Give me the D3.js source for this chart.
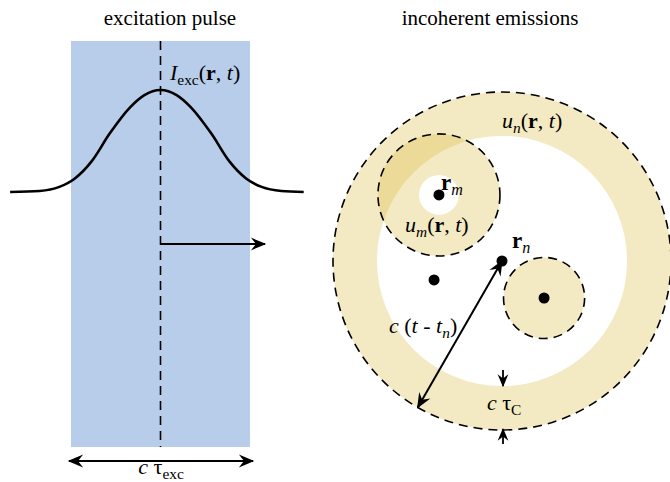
<!DOCTYPE html>
<html>
<head>
<meta charset="utf-8">
<script src="https://cdn.jsdelivr.net/npm/d3@7"></script>
<style>
  html, body { margin: 0; padding: 0; background: #fff; }
  svg { display: block; font-family: "Liberation Serif", "DejaVu Serif", serif; }
</style>
</head>
<body>
<div id="fig"></div>
<script>
const W = 670, H = 482;

// pulse profile: position (pulse widths from centre) and relative intensity
const pulsePos = [-1.68, -1.35, -1.13, -0.96, -0.77, -0.57, -0.34, -0.18, 0, 0.18, 0.34, 0.57, 0.77, 0.96, 1.13, 1.35, 1.6];
const pulseInt = [0, 0.01, 0.05, 0.13, 0.30, 0.57, 0.83, 0.95, 1, 0.95, 0.83, 0.57, 0.30, 0.13, 0.05, 0.01, 0];

// emitters, in units of the outer radius of u_n, relative to r_n
const emitName  = ['n', 'm', 'k', 'j'];
const emitX     = [0, -0.373, 0.249, -0.402];
const emitY     = [0, -0.391, 0.219, 0.112];
const emitOuter = [1, 0.361, 0.24, 0];
const emitInner = [0.74, 0.118, 0, 0];

const BLUE = '#b8cde9';
const SAND = '#d9b73a';

const svg = d3.select('#fig').append('svg')
  .attr('width', W).attr('height', H);

const defs = svg.append('defs');
function marker(id, size) {
  defs.append('marker')
    .attr('id', id)
    .attr('viewBox', '-12 -6 14 12')
    .attr('refX', 0).attr('refY', 0)
    .attr('markerWidth', size).attr('markerHeight', size)
    .attr('markerUnits', 'userSpaceOnUse')
    .attr('orient', 'auto-start-reverse')
    .append('path')
    .attr('d', 'M1,0 L-11,-5 L-7,0 L-11,5 Z')
    .attr('fill', '#000');
}
marker('head', 18);
marker('headS', 15);

// ---------- left panel: excitation pulse ----------
const xPulse = d3.scaleLinear().domain([-1, 1]).range([71, 250]);
const yPulse = d3.scaleLinear().domain([0, 1]).range([192, 90]);

svg.append('rect')
  .attr('x', xPulse(-1)).attr('y', 41)
  .attr('width', xPulse(1) - xPulse(-1)).attr('height', 406)
  .attr('fill', BLUE);

svg.append('line')
  .attr('x1', xPulse(0)).attr('x2', xPulse(0))
  .attr('y1', 41).attr('y2', 447)
  .attr('stroke', '#000').attr('stroke-width', 1.6)
  .attr('stroke-dasharray', '9,6');

const line = d3.line()
  .x((d, i) => xPulse(pulsePos[i]))
  .y(d => yPulse(d))
  .curve(d3.curveMonotoneX);

svg.append('path')
  .attr('d', line(pulseInt))
  .attr('fill', 'none')
  .attr('stroke', '#000')
  .attr('stroke-width', 2.6);

// propagation arrow
svg.append('line')
  .attr('x1', xPulse(0)).attr('x2', 265)
  .attr('y1', 244).attr('y2', 244)
  .attr('stroke', '#000').attr('stroke-width', 2)
  .attr('marker-end', 'url(#head)');

// pulse width double arrow
svg.append('line')
  .attr('x1', 69).attr('x2', 253)
  .attr('y1', 461).attr('y2', 461)
  .attr('stroke', '#000').attr('stroke-width', 2)
  .attr('marker-start', 'url(#head)')
  .attr('marker-end', 'url(#head)');

svg.append('text')
  .attr('x', 170).attr('y', 25)
  .attr('text-anchor', 'middle')
  .attr('font-size', 21)
  .text('excitation pulse');

function mathLabel(x, y, parts, anchor, size) {
  const fs = size || 22;
  const t = svg.append('text')
    .attr('x', x).attr('y', y)
    .attr('font-size', fs)
    .attr('text-anchor', anchor || 'start');
  parts.forEach(p => {
    const s = t.append('tspan').text(p.t);
    if (p.i) s.attr('font-style', 'italic');
    if (p.b) s.attr('font-weight', 'bold');
    if (p.sub) s.attr('font-size', fs * 0.7).attr('dy', 5);
    if (p.up) s.attr('dy', -5);
  });
  return t;
}

mathLabel(170, 80, [
  {t: 'I', i: true}, {t: 'exc', sub: true}, {t: '(', up: true}, {t: 'r', b: true},
  {t: ', '}, {t: 't', i: true}, {t: ')'}
]);

mathLabel(161, 474, [
  {t: 'c', i: true}, {t: ' τ'}, {t: 'exc', sub: true}
], 'middle');

// ---------- right panel: incoherent emissions ----------
const cx = 502, cy = 261;
const rs = d3.scaleLinear().domain([0, 1]).range([0, 169]);

svg.append('text')
  .attr('x', 490).attr('y', 25)
  .attr('text-anchor', 'middle')
  .attr('font-size', 21)
  .text('incoherent emissions');

function ring(x, y, ro, ri) {
  const p = d3.path();
  p.moveTo(x + ro, y); p.arc(x, y, ro, 0, 2 * Math.PI);
  if (ri > 0) { p.moveTo(x + ri, y); p.arc(x, y, ri, 0, 2 * Math.PI); }
  return p.toString();
}

const emitters = emitName.map((n, i) => ({
  n, x: cx + rs(emitX[i]), y: cy + rs(emitY[i]),
  ro: rs(emitOuter[i]), ri: rs(emitInner[i])
}));

svg.append('g').selectAll('path.fill')
  .data(emitters.filter(d => d.ro > 0))
  .join('path')
  .attr('d', d => ring(d.x, d.y, d.ro, d.ri))
  .attr('fill', SAND).attr('fill-opacity', 0.31)
  .attr('fill-rule', 'evenodd');

svg.append('g').selectAll('circle.edge')
  .data(emitters.filter(d => d.ro > 0))
  .join('circle')
  .attr('cx', d => d.x).attr('cy', d => d.y).attr('r', d => d.ro)
  .attr('fill', 'none').attr('stroke', '#000')
  .attr('stroke-width', 1.6).attr('stroke-dasharray', '9,6');

svg.append('g').selectAll('circle.dot')
  .data(emitters)
  .join('circle')
  .attr('cx', d => d.x).attr('cy', d => d.y).attr('r', 5.5)
  .attr('fill', '#000');

// radius arrow c(t - t_n)
const ang = Math.atan2(146, -84);
svg.append('line')
  .attr('x1', cx).attr('y1', cy)
  .attr('x2', cx + rs(1) * Math.cos(ang)).attr('y2', cy + rs(1) * Math.sin(ang))
  .attr('stroke', '#000').attr('stroke-width', 2)
  .attr('marker-start', 'url(#head)')
  .attr('marker-end', 'url(#head)');

// ring width arrows
svg.append('line')
  .attr('x1', 503).attr('x2', 503).attr('y1', 370).attr('y2', cy + rs(emitInner[0]))
  .attr('stroke', '#000').attr('stroke-width', 1.8)
  .attr('marker-end', 'url(#headS)');
svg.append('line')
  .attr('x1', 503).attr('x2', 503).attr('y1', 444).attr('y2', cy + rs(1) - 1)
  .attr('stroke', '#000').attr('stroke-width', 1.8)
  .attr('marker-end', 'url(#headS)');

mathLabel(502, 128, [
  {t: 'u', i: true}, {t: 'n', i: true, sub: true}, {t: '(', up: true}, {t: 'r', b: true},
  {t: ', '}, {t: 't', i: true}, {t: ')'}
]);
mathLabel(441, 190, [{t: 'r', b: true}, {t: 'm', i: true, sub: true}], 'start', 23);
mathLabel(405, 232, [
  {t: 'u', i: true}, {t: 'm', i: true, sub: true}, {t: '(', up: true}, {t: 'r', b: true},
  {t: ', '}, {t: 't', i: true}, {t: ')'}
]);
mathLabel(512, 248, [{t: 'r', b: true}, {t: 'n', i: true, sub: true}], 'start', 23);
mathLabel(389, 333, [
  {t: 'c', i: true}, {t: ' ('}, {t: 't', i: true}, {t: ' - '}, {t: 't', i: true},
  {t: 'n', i: true, sub: true}, {t: ')', up: true}
]);
mathLabel(487, 410, [{t: 'c', i: true}, {t: ' τ'}, {t: 'C', sub: true}]);
</script>
</body>
</html>
